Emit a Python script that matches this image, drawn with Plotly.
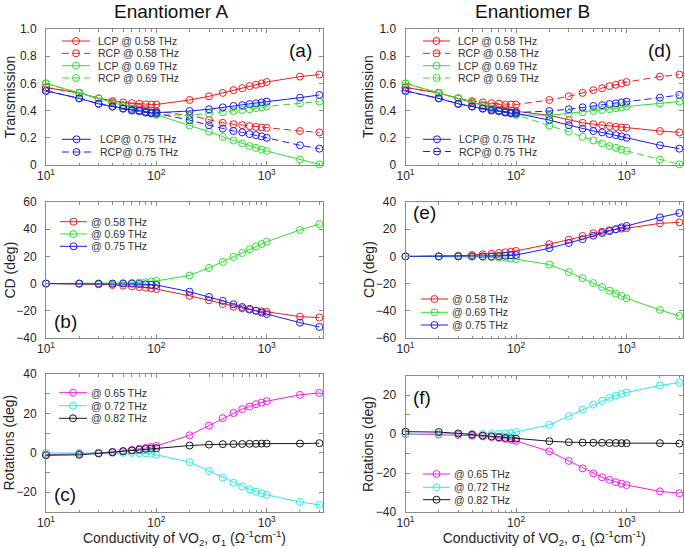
import plotly.graph_objects as go

W, H = 685, 548

sigma = [10, 20, 30, 40, 50, 60, 70, 80, 90, 100, 200, 300, 400, 500, 600, 700, 800, 900, 1000, 2000, 3000]

# ---- Enantiomer A: transmission ----
a_lcp_058 = [0.57, 0.53, 0.49, 0.47, 0.46, 0.455, 0.45, 0.445, 0.445, 0.445, 0.478, 0.505, 0.53, 0.55, 0.565, 0.58, 0.59, 0.60, 0.61, 0.65, 0.665]
a_rcp_058 = [0.57, 0.53, 0.49, 0.46, 0.44, 0.43, 0.42, 0.41, 0.40, 0.395, 0.365, 0.33, 0.31, 0.30, 0.293, 0.286, 0.28, 0.276, 0.273, 0.25, 0.24]
a_lcp_069 = [0.60, 0.53, 0.49, 0.46, 0.433, 0.415, 0.40, 0.39, 0.38, 0.37, 0.29, 0.245, 0.207, 0.18, 0.158, 0.14, 0.126, 0.113, 0.103, 0.04, 0.005]
a_rcp_069 = [0.60, 0.53, 0.49, 0.46, 0.433, 0.415, 0.40, 0.39, 0.38, 0.37, 0.365, 0.38, 0.387, 0.397, 0.404, 0.41, 0.418, 0.424, 0.43, 0.453, 0.466]
a_lcp_075 = [0.545, 0.49, 0.45, 0.43, 0.415, 0.405, 0.40, 0.39, 0.385, 0.385, 0.397, 0.41, 0.424, 0.434, 0.44, 0.448, 0.453, 0.46, 0.466, 0.495, 0.515]
a_rcp_075 = [0.545, 0.49, 0.45, 0.43, 0.415, 0.40, 0.395, 0.385, 0.38, 0.38, 0.33, 0.293, 0.268, 0.25, 0.24, 0.227, 0.22, 0.21, 0.20, 0.145, 0.12]

# ---- Enantiomer B: transmission ----
b_lcp_058 = [0.57, 0.53, 0.49, 0.46, 0.44, 0.43, 0.42, 0.41, 0.40, 0.395, 0.365, 0.33, 0.31, 0.30, 0.293, 0.286, 0.28, 0.276, 0.273, 0.25, 0.24]
b_rcp_058 = [0.57, 0.53, 0.49, 0.47, 0.46, 0.455, 0.45, 0.445, 0.445, 0.445, 0.478, 0.505, 0.53, 0.55, 0.565, 0.58, 0.59, 0.60, 0.61, 0.65, 0.665]
b_lcp_069 = [0.60, 0.53, 0.49, 0.46, 0.433, 0.415, 0.40, 0.39, 0.38, 0.37, 0.365, 0.38, 0.387, 0.397, 0.404, 0.41, 0.418, 0.424, 0.43, 0.453, 0.466]
b_rcp_069 = [0.60, 0.53, 0.49, 0.46, 0.433, 0.415, 0.40, 0.39, 0.38, 0.37, 0.29, 0.245, 0.207, 0.18, 0.158, 0.14, 0.126, 0.113, 0.103, 0.04, 0.005]
b_lcp_075 = [0.545, 0.49, 0.45, 0.43, 0.415, 0.40, 0.395, 0.385, 0.38, 0.38, 0.33, 0.293, 0.268, 0.25, 0.24, 0.227, 0.22, 0.21, 0.20, 0.145, 0.12]
b_rcp_075 = [0.545, 0.49, 0.45, 0.43, 0.415, 0.405, 0.40, 0.39, 0.385, 0.385, 0.397, 0.41, 0.424, 0.434, 0.44, 0.448, 0.453, 0.46, 0.466, 0.495, 0.515]

# ---- CD (deg) ----
a_cd_058 = [0, 0, -0.5, -1, -1.5, -2, -2.5, -3, -3.5, -4, -9, -12.3, -15, -17, -18.2, -19.2, -19.9, -20.4, -20.7, -24.3, -25]
a_cd_069 = [0, 0, 0, 0, 0.3, 0.5, 0.8, 1.0, 1.5, 2, 6, 11.5, 16, 19.6, 22.5, 25.2, 27.4, 29.1, 30.8, 39.4, 43.8]
a_cd_075 = [0, 0, 0, 0, 0, 0, -0.2, -0.5, -0.8, -1, -6, -9.8, -12.7, -15.2, -17.2, -18.6, -20, -21.4, -22.4, -28.7, -31.9]
b_cd_058 = [0, 0, 0.5, 1, 1.5, 2, 2.5, 3, 3.5, 4, 9, 12.3, 15, 17, 18.2, 19.2, 19.9, 20.4, 20.7, 24.3, 25]
b_cd_069 = [0, 0, 0, 0, -0.3, -0.5, -0.8, -1.0, -1.5, -2, -6, -11.5, -16, -19.6, -22.5, -25.2, -27.4, -29.1, -30.8, -39.4, -43.8]
b_cd_075 = [0, 0, 0, 0, 0, 0, 0.2, 0.5, 0.8, 1, 6, 9.8, 12.7, 15.2, 17.2, 18.6, 20, 21.4, 22.4, 28.7, 31.9]

# ---- Rotations (deg) ----
a_rot_065 = [-1, -0.5, 0, 0.5, 1, 1.5, 2, 2.5, 3, 3.5, 8.9, 13.8, 17.6, 20.2, 22.2, 23.5, 24.7, 25.5, 26.2, 29.4, 30.4]
a_rot_072 = [0, 0, 0, 0, 0, 0, -0.2, -0.3, -0.5, -1, -4.7, -9.2, -12.6, -15.1, -17, -18.5, -19.7, -20.5, -21.3, -24.9, -26.4]
a_rot_082 = [-1.2, -1, -0.3, 0.3, 0.8, 1.2, 1.6, 2, 2.2, 2.4, 3.7, 4.2, 4.4, 4.5, 4.5, 4.6, 4.6, 4.7, 4.7, 4.7, 4.9]
b_rot_065 = [0, -0.3, -0.5, -0.8, -1.2, -1.6, -2, -2.5, -3, -3.5, -8.9, -13.8, -17.6, -20.2, -22.2, -23.5, -24.7, -25.5, -26.2, -29.4, -30.4]
b_rot_072 = [0, 0, 0, 0, 0, 0, 0.2, 0.3, 0.5, 1, 4.7, 9.2, 12.6, 15.1, 17, 18.5, 19.7, 20.5, 21.3, 24.9, 26.4]
b_rot_082 = [1.2, 1, 0.3, -0.3, -0.8, -1.2, -1.6, -2, -2.2, -2.4, -3.7, -4.2, -4.4, -4.5, -4.5, -4.6, -4.6, -4.7, -4.7, -4.7, -4.9]

# ---- labels ----
trans_labels_1 = ["LCP @ 0.58 THz", "RCP @ 0.58 THz", "LCP @ 0.69 THz", "RCP @ 0.69 THz"]
trans_labels_2 = ["LCP@ 0.75 THz", "RCP@ 0.75 THz"]
cd_labels = ["@ 0.58 THz", "@ 0.69 THz", "@ 0.75 THz"]
rot_labels = ["@ 0.65 THz", "@ 0.72 THz", "@ 0.82 THz"]
x_tick_vals = [10, 100, 1000]
x_tick_text = ["10<sup>1</sup>", "10<sup>2</sup>", "10<sup>3</sup>"]

RED, GREEN, BLUE = "#ee1c1c", "#2ee02e", "#1c1cee"
MAG, CYAN, BLACK = "#ee1cee", "#2ee8e8", "#1a1a1a"
DASH = "7px,4px"
FONT = "Liberation Sans, Arial, sans-serif"
AXC = "#8a8a8a"
TXT = "#262626"


def px(x):
    return x / W


def py(y):
    return 1 - y / H


fig = go.Figure()

# panel geometry (pixels): name -> (x0, x1, ytop, ybottom)
panels = {
    1: (46, 323, 29, 165),
    2: (46, 323, 202, 338),
    3: (46, 323, 374, 512),
    4: (405.5, 683, 29, 165),
    5: (405.5, 683, 202, 338),
    6: (405.5, 683, 375.5, 512),
}

series = {
    1: [(a_lcp_058, RED, "solid"), (a_rcp_058, RED, DASH), (a_lcp_069, GREEN, "solid"), (a_rcp_069, GREEN, DASH),
        (a_lcp_075, BLUE, "solid"), (a_rcp_075, BLUE, DASH)],
    4: [(b_lcp_058, RED, "solid"), (b_rcp_058, RED, DASH), (b_lcp_069, GREEN, "solid"), (b_rcp_069, GREEN, DASH),
        (b_lcp_075, BLUE, "solid"), (b_rcp_075, BLUE, DASH)],
    2: [(a_cd_058, RED, "solid"), (a_cd_069, GREEN, "solid"), (a_cd_075, BLUE, "solid")],
    5: [(b_cd_058, RED, "solid"), (b_cd_069, GREEN, "solid"), (b_cd_075, BLUE, "solid")],
    3: [(a_rot_065, MAG, "solid"), (a_rot_072, CYAN, "solid"), (a_rot_082, BLACK, "solid")],
    6: [(b_rot_065, MAG, "solid"), (b_rot_072, CYAN, "solid"), (b_rot_082, BLACK, "solid")],
}

for k, lst in series.items():
    sfx = "" if k == 1 else str(k)
    for vals, col, dash in lst:
        fig.add_trace(go.Scatter(
            x=sigma, y=vals, mode="lines+markers", showlegend=False,
            line=dict(color=col, width=1, dash=dash),
            marker=dict(symbol="circle-open", size=7, color=col, line=dict(width=1, color=col)),
            xaxis="x" + sfx, yaxis="y" + sfx, hoverinfo="skip", cliponaxis=False,
        ))

yranges = {1: [0, 1], 4: [0, 1], 2: [-40, 60], 5: [-60, 40], 3: [-30, 40], 6: [-40, 30]}
ydticks = {1: 0.2, 4: 0.2, 2: 20, 5: 20, 3: 20, 6: 20}
minor_x = [m * 10 ** e for e in (1, 2, 3) for m in range(2, 10) if m * 10 ** e <= 3200]

layout = dict(
    width=W, height=H, margin=dict(l=0, r=0, t=0, b=0, autoexpand=False),
    paper_bgcolor="white", plot_bgcolor="white",
    font=dict(family=FONT, color=TXT, size=12),
    showlegend=False,
)

for k, (x0, x1, yt, yb) in panels.items():
    sfx = "" if k == 1 else str(k)
    xa = dict(
        type="log", range=[1, 3.51], domain=[px(x0), px(x1)], anchor="y" + sfx,
        tickvals=x_tick_vals, ticktext=x_tick_text, tickfont=dict(size=12, color=TXT),
        ticks="inside", ticklen=4, tickcolor=AXC, showline=True, linecolor=AXC, linewidth=1,
        mirror="ticks", showgrid=False, zeroline=False, automargin=False,
        minor=dict(tickvals=minor_x, ticks="inside", ticklen=2.5, tickcolor=AXC, showgrid=False),
    )
    if k in (3, 6):
        xa["title"] = dict(
            text="Conductivity of VO<sub>2</sub>, σ<sub>1</sub> (Ω<sup>-1</sup>cm<sup>-1</sup>)",
            font=dict(size=14, color=TXT), standoff=4)
    ya = dict(
        range=yranges[k], domain=[py(yb), py(yt)], anchor="x" + sfx,
        dtick=ydticks[k], tick0=0, tickfont=dict(size=12, color=TXT),
        ticks="inside", ticklen=4, tickcolor=AXC, showline=True, linecolor=AXC, linewidth=1,
        mirror="ticks", showgrid=False, zeroline=False, ticklabelstandoff=6, automargin=False,
    )
    if k in (1, 4):
        ya["tickvals"] = [0, 0.2, 0.4, 0.6, 0.8, 1.0]
        ya["ticktext"] = ["0", "0.2", "0.4", "0.6", "0.8", "1.0"]
    if k in (3, 6):
        ya["minor"] = dict(dtick=10, tick0=0, ticks="inside", ticklen=4, tickcolor=AXC, showgrid=False)
    layout["xaxis" + sfx] = xa
    layout["yaxis" + sfx] = ya

fig.update_layout(**layout)

shapes = []
annotations = []

# titles
annotations.append(dict(text="Enantiomer A", x=px(171), y=py(11), xref="paper", yref="paper",
                        showarrow=False, font=dict(size=19, color="#111"), xanchor="center", yanchor="middle"))
annotations.append(dict(text="Enantiomer B", x=px(532.5), y=py(11), xref="paper", yref="paper",
                        showarrow=False, font=dict(size=19, color="#111"), xanchor="center", yanchor="middle"))

# y-axis titles
ytitles = [("Transmission", 9.5, 97), ("CD (deg)", 9.5, 270), ("Rotations (deg)", 8.5, 443),
           ("Transmission", 368, 97), ("CD (deg)", 369, 270), ("Rotations (deg)", 368, 444)]
for t, x, y in ytitles:
    annotations.append(dict(text=t, x=px(x), y=py(y), xref="paper", yref="paper", textangle=-90,
                            showarrow=False, font=dict(size=14, color=TXT), xanchor="center", yanchor="middle"))

# panel letters
letters = [("(a)", 300, 50.5), ("(b)", 65.5, 321.5), ("(c)", 65, 494),
           ("(d)", 659.5, 50.5), ("(e)", 424.5, 212.5), ("(f)", 421.7, 397.5)]
for t, x, y in letters:
    annotations.append(dict(text=t, x=px(x), y=py(y), xref="paper", yref="paper",
                            showarrow=False, font=dict(size=19, color="#111"), xanchor="center", yanchor="middle"))


def add_legend(entries, lx0, lx1, tx, ys):
    for (label, col, dash), y in zip(entries, ys):
        shapes.append(dict(type="line", xref="paper", yref="paper", x0=px(lx0), x1=px(lx1), y0=py(y), y1=py(y),
                           line=dict(color=col, width=1, dash=dash)))
        xm = (lx0 + lx1) / 2
        shapes.append(dict(type="circle", xref="paper", yref="paper", xsizemode="pixel", ysizemode="pixel",
                           xanchor=px(xm), yanchor=py(y), x0=-3.5, x1=3.5, y0=-3.5, y1=3.5,
                           line=dict(color=col, width=1), fillcolor="rgba(0,0,0,0)"))
        annotations.append(dict(text=label, x=px(tx), y=py(y), xref="paper", yref="paper", showarrow=False,
                                xanchor="left", yanchor="middle", font=dict(size=10.5, color="#333")))


tstyles1 = [(RED, "solid"), (RED, DASH), (GREEN, "solid"), (GREEN, DASH)]
tstyles2 = [(BLUE, "solid"), (BLUE, DASH)]
e1 = [(l, c, d) for l, (c, d) in zip(trans_labels_1, tstyles1)]
e2 = [(l, c, d) for l, (c, d) in zip(trans_labels_2, tstyles2)]
ecd = [(l, c, "solid") for l, c in zip(cd_labels, [RED, GREEN, BLUE])]
erot = [(l, c, "solid") for l, c in zip(rot_labels, [MAG, CYAN, BLACK])]

add_legend(e1, 62, 90, 96, [41, 53.3, 65.7, 78])
add_legend(e2, 62, 91, 98, [139.3, 152])
add_legend(e1, 423, 450, 456, [41, 53.3, 65.7, 78])
add_legend(e2, 423, 451, 457, [139.3, 151.5])
add_legend(ecd, 60, 87, 88.5, [221.7, 234, 246.3])
add_legend(ecd, 421, 448, 449.5, [299, 312.3, 325])
add_legend(erot, 59, 87, 88.5, [392.7, 405.7, 418.3])
add_legend(erot, 423, 450, 452, [474, 487.3, 499.7])

fig.update_layout(shapes=shapes, annotations=annotations)

fig.write_html(
    "out.html",
    config={"displayModeBar": False},
    post_script="document.body.style.margin='0';document.body.style.overflow='hidden';",
)
